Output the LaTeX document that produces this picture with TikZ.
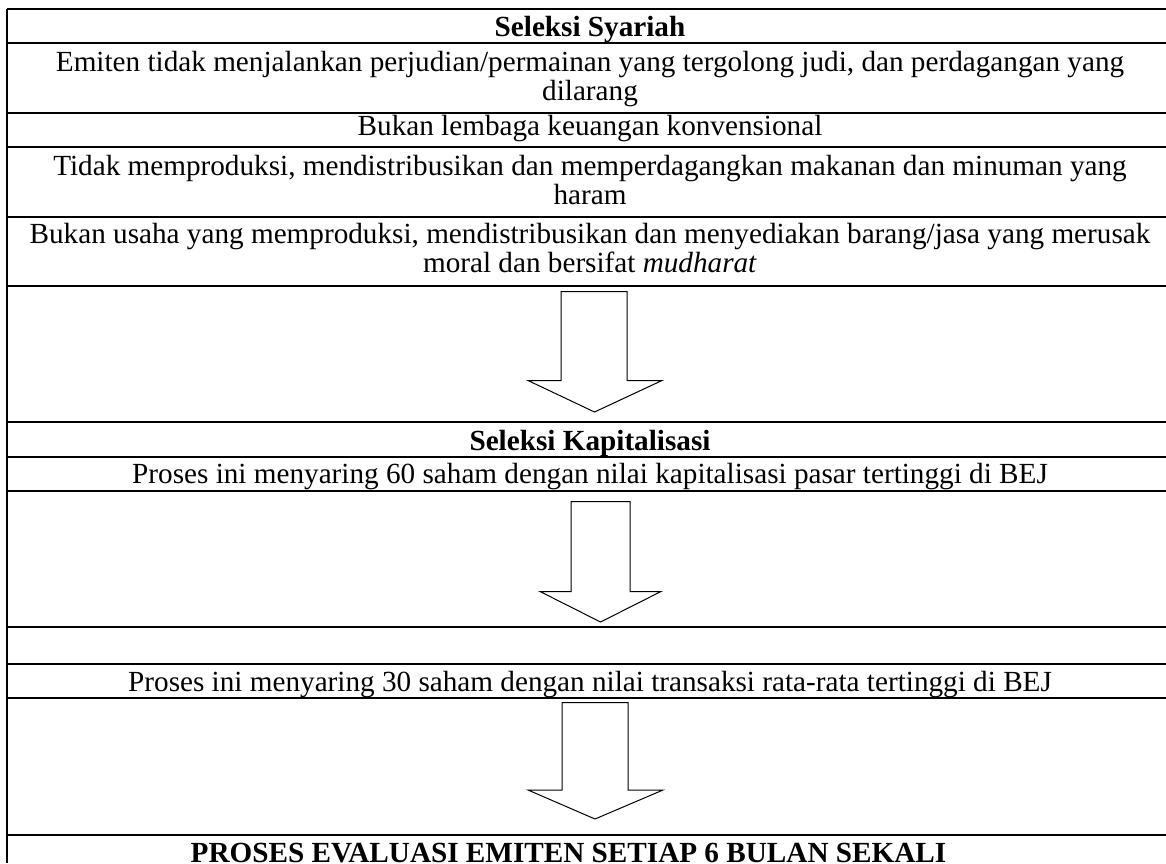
\documentclass[tikz,border=0pt]{standalone}
\usepackage{fontspec}
\setmainfont{Liberation Serif}
\begin{document}
\begin{tikzpicture}[x=1pt,y=-1pt,
  rule/.style={line width=1.5pt},
  txt/.style={anchor=base,inner sep=0pt,font=\fontsize{29.2}{34}\selectfont},
  btxt/.style={txt,font=\fontsize{29.2}{34}\selectfont\bfseries},
  bigarrow/.style={line width=1pt,fill=white,line join=miter}]
\useasboundingbox (0,0) rectangle (1166,863);
% table rules
\foreach \y in {9,43,113,147,217,286,422,457,491,627,664,698,835}
  \draw[rule] (7,\y) -- (1166,\y);
\draw[rule] (7,9) -- (7,863);
% texts
\node[btxt] (t0) at (590,36) {Seleksi Syariah};
\node[txt] (t1a) at (590,71) {Emiten tidak menjalankan perjudian/permainan yang tergolong judi, dan perdagangan yang};
\node[txt] (t1b) at (590,100) {dilarang};
\node[txt] (t2) at (590,135) {Bukan lembaga keuangan konvensional};
\node[txt] (t3a) at (590,175) {Tidak memproduksi, mendistribusikan dan memperdagangkan makanan dan minuman yang};
\node[txt] (t3b) at (590,204) {haram};
\node[txt] (t4a) at (590,243) {Bukan usaha yang memproduksi, mendistribusikan dan menyediakan barang/jasa yang merusak};
\node[txt] (t4b) at (590,272) {moral dan bersifat \textit{mudharat}};
\node[btxt] (k0) at (590,450) {Seleksi Kapitalisasi};
\node[txt] (k1) at (590,483) {Proses ini menyaring 60 saham dengan nilai kapitalisasi pasar tertinggi di BEJ};
\node[txt] (l1) at (590,691) {Proses ini menyaring 30 saham dengan nilai transaksi rata-rata tertinggi di BEJ};
\node[btxt] (ev) at (568.5,862) {PROSES EVALUASI EMITEN SETIAP 6 BULAN SEKALI};
% arrows
\draw[bigarrow] (561,291.5) -- (627,291.5) -- (627,380.5) -- (662,380.5) -- (594.5,412) -- (528,380.5) -- (561,380.5) -- cycle;
\draw[bigarrow] (571,501.5) -- (630,501.5) -- (630,591.5) -- (661,591.5) -- (600.5,622) -- (540,591.5) -- (571,591.5) -- cycle;
\draw[bigarrow] (562,702.5) -- (628,702.5) -- (628,790) -- (663,790) -- (595,819) -- (528,790) -- (562,790) -- cycle;
\end{tikzpicture}
\end{document}
